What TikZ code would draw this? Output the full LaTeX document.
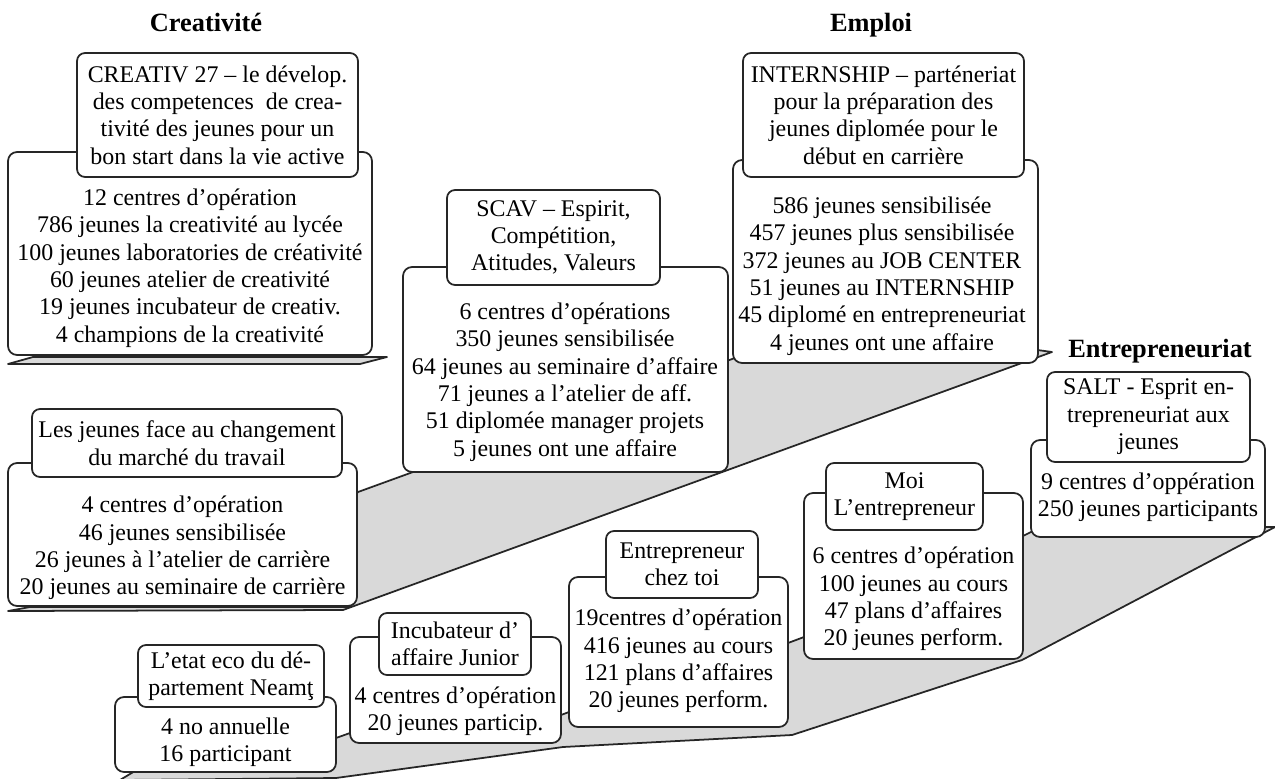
\documentclass[tikz,border=0pt]{standalone}
\usepackage{fontspec}
\setmainfont{Liberation Serif}
\usetikzlibrary{positioning}
\tikzset{
    hdrbox/.style = {rectangle, rounded corners=1.6mm, line width=1pt, draw=black!85, fill=white, align=center, inner sep=0pt, font=\fontsize{13.6}{15.6}\selectfont, text=black},
    bodybox/.style = {rectangle, rounded corners=1.8mm, line width=1pt, draw=black!85, fill=white, inner sep=0pt},
    listtxt/.style = {align=center, inner sep=0pt, font=\fontsize{13.6}{15.6}\selectfont, text=black},
    titletxt/.style = {inner sep=0pt, anchor=base, font=\fontsize{15}{18}\selectfont\bfseries, text=black},
    stepfill/.style = {fill=black!15, draw=black!85, line width=1pt, line join=round}
}

\begin{document}
\begin{tikzpicture}[x=0.02cm, y=-0.02cm]
  \useasboundingbox (0,0) rectangle (1275,778);

  % titles
  \node[titletxt] (tcrea) at (206,31) {Creativité};
  \node[titletxt] (templ) at (871,31) {Emploi};
  \node[titletxt] (tentr) at (1160,357) {Entrepreneuriat};

  % steps (behind the boxes)
  \draw[stepfill] (8,364) -- (360,364) -- (387,357) -- (33,357) -- cycle;
  \draw[stepfill] (8,611) -- (343,610) -- (1052,352) -- (1030,349) -- (735,358) -- (413,472) -- (358,492)
    -- (350,500) -- (350,607) -- (30,607) -- cycle;
  \draw[stepfill] (120,780) -- (336,778) -- (563,747) -- (792,735) -- (1022,660) -- (1275,527) -- (1262,527)
    -- (1031,532) -- (1023,536) -- (804,637) -- (788,643) -- (569,712) -- (561,715) -- (350,733)
    -- (336,738) -- (140,768) -- cycle;

  % bodies
  \node[bodybox, minimum width=7.28cm, minimum height=4.06cm] (cbody) at (190,253.5) {};
  \node[bodybox, minimum width=6.98cm, minimum height=2.86cm] (jbody) at (182.5,534.5) {};
  \node[bodybox, minimum width=6.5cm, minimum height=4.1cm] (sbody) at (565.5,369.5) {};
  \node[bodybox, minimum width=6.1cm, minimum height=4.06cm] (ebody) at (885.5,261.5) {};
  \node[bodybox, minimum width=4.68cm, minimum height=1.94cm] (saltbody) at (1148,488.5) {};
  \node[bodybox, minimum width=4.38cm, minimum height=3.32cm] (moibody) at (913.5,576) {};
  \node[bodybox, minimum width=4.38cm, minimum height=3.0cm] (chezbody) at (678.5,652) {};
  \node[bodybox, minimum width=4.22cm, minimum height=2.12cm] (incbody) at (455.5,690) {};
  \node[bodybox, minimum width=4.42cm, minimum height=1.5cm] (etatbody) at (225.5,734.5) {};

  % headers
  \node[hdrbox, minimum width=5.62cm, minimum height=2.48cm] (chdr) at (217.5,115)
    {CREATIV 27 – le dévelop.\\des competences\ \ de crea-\\tivité des jeunes pour un\\bon start dans la vie active};
  \node[hdrbox, minimum width=6.2cm, minimum height=1.36cm] (jhdr) at (187,443)
    {Les jeunes face au changement\\du marché du travail};
  \node[hdrbox, minimum width=4.26cm, minimum height=1.9cm] (shdr) at (553.5,237.5)
    {SCAV – Espirit,\\Compétition,\\Atitudes, Valeurs};
  \node[hdrbox, minimum width=5.62cm, minimum height=2.48cm] (ehdr) at (883.5,115)
    {INTERNSHIP – parténeriat\\pour la préparation des\\jeunes diplomée pour le\\début en carrière};
  \node[hdrbox, minimum width=4.06cm, minimum height=1.8cm] (salthdr) at (1148.5,417)
    {SALT - Esprit en-\\trepreneuriat aux\\jeunes};
  \node[hdrbox, minimum width=3.14cm, minimum height=1.34cm] (moihdr) at (904.5,496.5)
    {Moi\\L’entrepreneur};
  \node[hdrbox, minimum width=3.04cm, minimum height=1.34cm] (chezhdr) at (682,564.5)
    {Entrepreneur\\chez toi};
  \node[hdrbox, minimum width=3.04cm, minimum height=1.24cm] (inchdr) at (455,644)
    {Incubateur d’\\affaire Junior};
  \node[hdrbox, minimum width=3.72cm, minimum height=1.24cm] (etathdr) at (231,676)
    {L’etat eco du dé-\\partement Neamţ};

  % figures
  \node[listtxt] (clist) at (190,268) {12 centres d’opération\\786 jeunes la creativité au lycée\\100 jeunes laboratories de créativité\\60 jeunes atelier de creativité\\19 jeunes incubateur de creativ.\\4 champions de la creativité};
  \node[listtxt] (jlist) at (182.5,548) {4 centres d’opération\\46 jeunes sensibilisée\\26 jeunes à l’atelier de carrière\\20 jeunes au seminaire de carrière};
  \node[listtxt] (slist) at (565,382) {6 centres d’opérations\\350 jeunes sensibilisée\\64 jeunes au seminaire d’affaire\\71 jeunes a l’atelier de aff.\\51 diplomée manager projets\\5 jeunes ont une affaire};
  \node[listtxt] (elist) at (882,276) {586 jeunes sensibilisée\\457 jeunes plus sensibilisée\\372 jeunes au JOB CENTER\\51 jeunes au INTERNSHIP\\45 diplomé en entrepreneuriat\\4 jeunes ont une affaire};
  \node[listtxt] (saltlist) at (1148,497.5) {9 centres d’oppération\\250 jeunes participants};
  \node[listtxt] (moilist) at (913.5,599) {6 centres d’opération\\100 jeunes au cours\\47 plans d’affaires\\20 jeunes perform.};
  \node[listtxt] (chezlist) at (678.5,661) {19centres d’opération\\416 jeunes au cours\\121 plans d’affaires\\20 jeunes perform.};
  \node[listtxt] (inclist) at (455.5,711) {4 centres d’opération\\20 jeunes particip.};
  \node[listtxt] (etatlist) at (225.5,742) {4 no annuelle\\16 participant};

\end{tikzpicture}
\end{document}
